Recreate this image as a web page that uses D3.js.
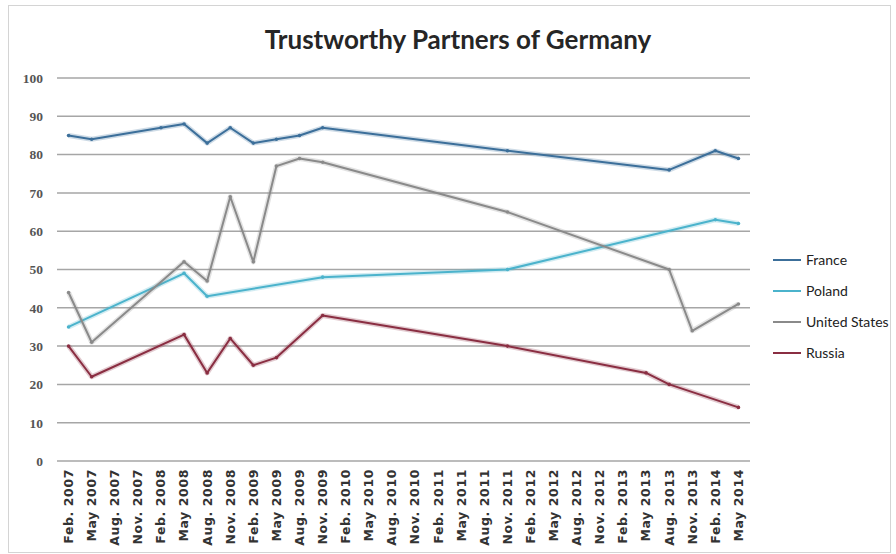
<!DOCTYPE html>
<html>
<head>
<meta charset="utf-8">
<script src="https://cdn.jsdelivr.net/npm/d3@7"></script>
<style>
  body { margin: 0; background: #fff; }
  svg { display: block; }
</style>
</head>
<body>
<div id="chart"></div>
<script>
const W = 896, H = 554;

// quarterly survey dates (tick labels)
const categories = [
  'Feb. 2007', 'May 2007', 'Aug. 2007', 'Nov. 2007',
  'Feb. 2008', 'May 2008', 'Aug. 2008', 'Nov. 2008',
  'Feb. 2009', 'May 2009', 'Aug. 2009', 'Nov. 2009',
  'Feb. 2010', 'May 2010', 'Aug. 2010', 'Nov. 2010',
  'Feb. 2011', 'May 2011', 'Aug. 2011', 'Nov. 2011',
  'Feb. 2012', 'May 2012', 'Aug. 2012', 'Nov. 2012',
  'Feb. 2013', 'May 2013', 'Aug. 2013', 'Nov. 2013',
  'Feb. 2014', 'May 2014'
];
const yTicks = [0, 10, 20, 30, 40, 50, 60, 70, 80, 90, 100];

// null = no survey at that date (line is drawn through the gaps)
const france = [85, 84, null, null, 87, 88, 83, 87, 83, 84, 85, 87,
  null, null, null, null, null, null, null, 81,
  null, null, null, null, null, null, 76, null, 81, 79];
const poland = [35, null, null, null, null, 49, 43, null, null, null, null, 48,
  null, null, null, null, null, null, null, 50,
  null, null, null, null, null, null, null, null, 63, 62];
const usa = [44, 31, null, null, null, 52, 47, 69, 52, 77, 79, 78,
  null, null, null, null, null, null, null, 65,
  null, null, null, null, null, null, 50, 34, null, 41];
const russia = [30, 22, null, null, null, 33, 23, 32, 25, 27, null, 38,
  null, null, null, null, null, null, null, 30,
  null, null, null, null, null, 23, 20, null, null, 14];

const seriesNames = ['France', 'Poland', 'United States', 'Russia'];
const seriesValues = [france, poland, usa, russia];
const colors = ['#3c6f9a', '#4bb3cc', '#8a8a8a', '#8a2e42'];

const svg = d3.select('#chart').append('svg')
  .attr('width', W).attr('height', H);

// chart frame
svg.append('rect')
  .attr('x', 8.5).attr('y', 5.5)
  .attr('width', 882).attr('height', 547)
  .attr('fill', '#fff').attr('stroke', '#d4d4d4');

const x = d3.scaleBand().domain(categories).range([57, 750]);
const y = d3.scaleLinear().domain([0, 100]).range([461, 78]);
const cx = d => x(d) + x.bandwidth() / 2;

// gridlines
svg.append('g')
  .selectAll('line').data(yTicks).enter().append('line')
  .attr('x1', 57).attr('x2', 750)
  .attr('y1', d => y(d)).attr('y2', d => y(d))
  .attr('stroke', '#a6a6a6').attr('stroke-width', 1.5);

// y axis labels
const yAxis = svg.append('g')
  .attr('transform', 'translate(43,0)')
  .call(d3.axisLeft(y).tickValues(yTicks).tickSize(0).tickPadding(0));
yAxis.select('.domain').remove();
yAxis.selectAll('text')
  .attr('font-family', 'Liberation Serif, serif')
  .attr('font-weight', 'bold')
  .attr('font-size', 13.5)
  .attr('fill', '#555');

// x axis labels, rotated
const xAxis = svg.append('g')
  .attr('transform', 'translate(0,469)')
  .call(d3.axisBottom(x).tickSize(0).tickPadding(0));
xAxis.select('.domain').remove();
xAxis.selectAll('text')
  .attr('font-family', 'DejaVu Sans, sans-serif')
  .attr('font-weight', 'bold')
  .attr('font-size', 12.5)
  .attr('letter-spacing', 0.6)
  .attr('fill', '#333')
  .attr('text-anchor', 'end')
  .attr('dy', '0.35em')
  .attr('transform', 'rotate(-90)');

// lines
const line = d3.line()
  .x(d => cx(d.cat))
  .y(d => y(d.v));

seriesValues.forEach((vals, k) => {
  const pts = vals.map((v, i) => ({cat: categories[i], v: v})).filter(d => d.v !== null);
  svg.append('path')
    .datum(pts)
    .attr('fill', 'none')
    .attr('stroke', colors[k])
    .attr('stroke-opacity', 0.25)
    .attr('stroke-width', 5)
    .attr('stroke-linejoin', 'round')
    .attr('d', line);
  svg.append('path')
    .datum(pts)
    .attr('fill', 'none')
    .attr('stroke', colors[k])
    .attr('stroke-width', 2)
    .attr('stroke-linejoin', 'round')
    .attr('d', line);
  svg.append('g').selectAll('circle').data(pts).enter().append('circle')
    .attr('cx', d => cx(d.cat)).attr('cy', d => y(d.v))
    .attr('r', 1.8).attr('fill', colors[k]);
});

// title
svg.append('text')
  .attr('x', 458).attr('y', 49)
  .attr('text-anchor', 'middle')
  .attr('font-family', 'Lato, sans-serif')
  .attr('font-weight', 'bold')
  .attr('font-size', 26)
  .attr('fill', '#262626')
  .text('Trustworthy Partners of Germany');

// legend
const leg = svg.append('g').selectAll('g').data(seriesNames).enter().append('g')
  .attr('transform', (d, i) => `translate(773,${260 + i * 31})`);
leg.append('line')
  .attr('x1', 0).attr('x2', 28)
  .attr('stroke', (d, i) => colors[i]).attr('stroke-width', 2);
leg.append('text')
  .attr('x', 33).attr('dy', '0.35em')
  .attr('font-family', 'Lato, sans-serif')
  .attr('font-size', 14)
  .attr('fill', '#222')
  .text(d => d);
</script>
</body>
</html>
